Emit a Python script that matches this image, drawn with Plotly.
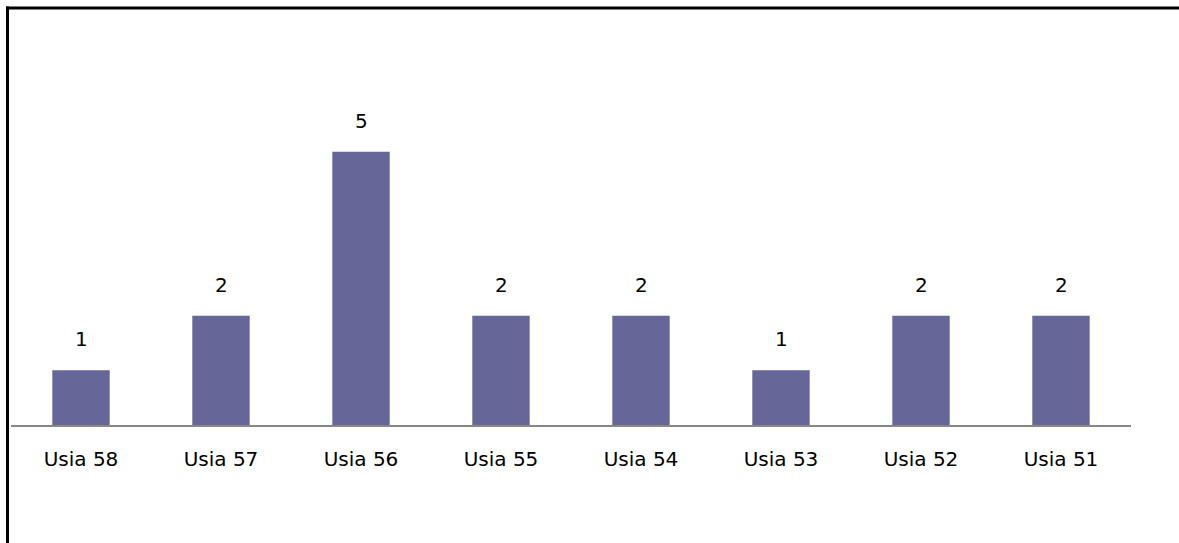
import plotly.graph_objects as go

categories = ["Usia 58", "Usia 57", "Usia 56", "Usia 55", "Usia 54", "Usia 53", "Usia 52", "Usia 51"]
values = [1, 2, 5, 2, 2, 1, 2, 2]

W, H = 1179, 543
L, R = 11, 1131       # plot area x extents (px)
BASE = 425            # baseline y (px)
YMAX = 6
UNIT = 54.6
TOP = BASE - YMAX * UNIT

fig = go.Figure()
fig.add_trace(go.Bar(
    x=categories, y=values,
    marker=dict(color="#666699", line=dict(width=0)),
    hoverinfo="skip",
))

for c, v in zip(categories, values):
    fig.add_annotation(x=c, y=v, text=str(v), showarrow=False,
                       xref="x", yref="y", yanchor="middle", yshift=31,
                       font=dict(family="DejaVu Sans", size=20, color="#000000"))

def px_x(p):
    return (p - L) / (R - L)

def px_y(p):
    return (BASE - p) / (BASE - TOP)

# outer frame (left and top edges)
fig.add_shape(type="line", xref="paper", yref="paper",
              x0=px_x(7.5), x1=px_x(7.5), y0=px_y(7), y1=px_y(H + 2),
              line=dict(color="#000000", width=3))
fig.add_shape(type="line", xref="paper", yref="paper",
              x0=px_x(6), x1=px_x(W + 2), y0=px_y(8.5), y1=px_y(8.5),
              line=dict(color="#000000", width=3))

fig.update_layout(
    width=W, height=H,
    margin=dict(l=L, r=W - R, t=TOP, b=H - BASE, pad=0),
    paper_bgcolor="#ffffff", plot_bgcolor="#ffffff",
    bargap=0.59,
    showlegend=False,
    font=dict(family="DejaVu Sans", size=20, color="#000000"),
    xaxis=dict(showline=True, linecolor="#878787", linewidth=2,
               ticks="", showgrid=False, zeroline=False,
               tickfont=dict(family="DejaVu Sans", size=20, color="#000000"),
               ticklabelstandoff=15),
    yaxis=dict(range=[0, YMAX], visible=False, showgrid=False, zeroline=False),
)

fig.write_html("out.html",
               config={"displayModeBar": False},
               post_script="document.body.style.margin='0';document.body.style.overflow='hidden';")
